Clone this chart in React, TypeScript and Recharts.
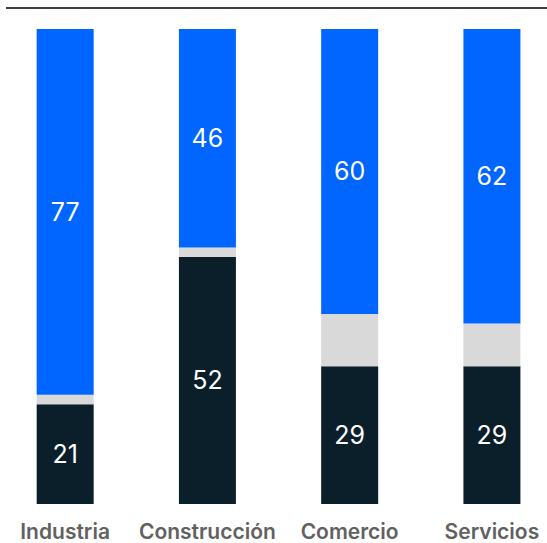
import React from 'react';
import { BarChart, Bar, XAxis, YAxis, LabelList } from 'recharts';

const categories = ['Industria', 'Construcción', 'Comercio', 'Servicios'];
const darkValues = [21, 52, 29, 29];
const grayValues = [2, 2, 11, 9];
const blueValues = [77, 46, 60, 62];

const data = categories.map((name, i) => ({
  name,
  dark: darkValues[i],
  gray: grayValues[i],
  blue: blueValues[i],
}));

const FONT = 'Inter, "Noto Sans", "DejaVu Sans", sans-serif';

const Tick = (props: any) => {
  const { x, y, payload } = props;
  return (
    <text
      x={x}
      y={y}
      dy={27}
      textAnchor="middle"
      fill="#616161"
      fontSize={21}
      fontWeight={600}
      fontFamily={FONT}
    >
      {payload.value}
    </text>
  );
};

export default function App() {
  return (
    <div style={{ position: 'absolute', left: 0, top: 0, width: 547, height: 543, overflow: 'hidden', background: '#fff' }}>
      <div style={{ position: 'absolute', left: 6, top: 7, width: 541, height: 2, background: '#404040' }} />
      <div style={{ position: 'absolute', left: -6, top: 0 }}>
        <BarChart
          width={569}
          height={543}
          data={data}
          margin={{ top: 29, right: 0, bottom: 0, left: 0 }}
          barCategoryGap="30%"
        >
          <XAxis
            dataKey="name"
            axisLine={false}
            tickLine={false}
            height={39}
            interval={0}
            tick={<Tick />}
          />
          <YAxis hide domain={[0, 100]} />
          <Bar dataKey="dark" stackId="a" fill="#0B1F2B" isAnimationActive={false}>
            <LabelList dataKey="dark" position="center" fill="#ffffff" fontSize={25} fontFamily={FONT} />
          </Bar>
          <Bar dataKey="gray" stackId="a" fill="#D9D9D9" isAnimationActive={false} />
          <Bar dataKey="blue" stackId="a" fill="#0066FF" isAnimationActive={false}>
            <LabelList dataKey="blue" position="center" fill="#ffffff" fontSize={25} fontFamily={FONT} />
          </Bar>
        </BarChart>
      </div>
    </div>
  );
}
